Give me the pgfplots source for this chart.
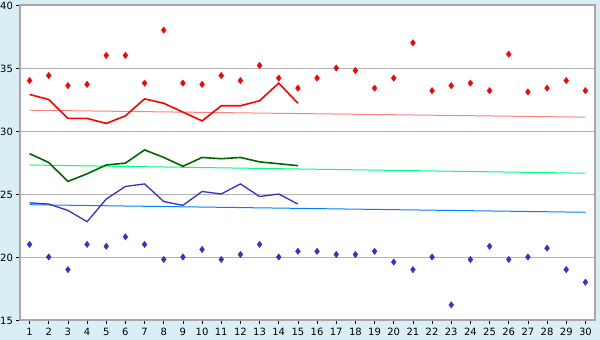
\documentclass[border=0pt]{standalone}
\usepackage{fontspec}
\setmainfont{DejaVu Sans}
\usepackage{pgfplots}
\pgfplotsset{compat=1.18}
\definecolor{bgblue}{HTML}{DAEFF5}
\definecolor{gridgray}{HTML}{B4B4B4}
\definecolor{axgray}{HTML}{A8A8A8}
\definecolor{redtrend}{HTML}{FF8080}
\definecolor{dgreen}{HTML}{006600}
\definecolor{lgreen}{HTML}{00FF80}
\definecolor{dblue}{HTML}{3333CC}
\definecolor{lblue}{HTML}{0080FF}
\begin{document}
\begin{tikzpicture}
\fill[bgblue] (-20pt,-20pt) rectangle (580pt,320pt);
\begin{axis}[
  at={(0pt,0pt)}, anchor=south west,
  scale only axis, width=575pt, height=315pt,
  xmin=0.5, xmax=30.5, ymin=15, ymax=40,
  xtick={1,...,30}, ytick={15,20,...,40},
  tick pos=left, tick align=outside, major tick length=4pt,
  ymajorgrids, grid style={gridgray, line width=0.9pt},
  axis line style={axgray, line width=1.2pt},
  axis background/.style={fill=white},
  tick style={black, line width=0.7pt},
  ticklabel style={font=\fontsize{10}{12}\selectfont},
  xticklabel style={yshift=-1pt},
  yticklabel style={yshift=-0.5pt, xshift=0.5pt},
  /pgf/number format/assume math mode=true,
  every mark/.append style={xscale=1.3},
]
% red points
\addplot[only marks, mark=diamond*, mark size=3.2pt, color=red] coordinates {
(1,34.0)(2,34.4)(3,33.6)(4,33.7)(5,36.0)(6,36.0)(7,33.8)(8,38.0)(9,33.8)(10,33.7)
(11,34.4)(12,34.0)(13,35.2)(14,34.2)(15,33.4)(16,34.2)(17,35.0)(18,34.8)(19,33.4)(20,34.2)
(21,37.0)(22,33.2)(23,33.6)(24,33.8)(25,33.2)(26,36.1)(27,33.1)(28,33.4)(29,34.0)(30,33.2)};
% blue points
\addplot[only marks, mark=diamond*, mark size=3.2pt, color=dblue] coordinates {
(1,21.0)(2,20.0)(3,19.0)(4,21.0)(5,20.85)(6,21.6)(7,21.0)(8,19.8)(9,20.0)(10,20.6)
(11,19.8)(12,20.2)(13,21.0)(14,20.0)(15,20.45)(16,20.45)(17,20.2)(18,20.2)(19,20.45)(20,19.6)
(21,19.0)(22,20.0)(23,16.2)(24,19.8)(25,20.85)(26,19.8)(27,20.0)(28,20.7)(29,19.0)(30,18.0)};
% trend lines
\addplot[redtrend, line width=1pt] coordinates {(1,31.65)(30,31.1)};
\addplot[lgreen, line width=1pt] coordinates {(1,27.3)(30,26.65)};
\addplot[lblue, line width=1pt] coordinates {(1,24.15)(30,23.55)};
% red line
\addplot[red, line width=1.6pt] coordinates {
(1,32.9)(2,32.5)(3,31.0)(4,31.0)(5,30.6)(6,31.2)(7,32.55)(8,32.2)(9,31.5)(10,30.8)
(11,32.0)(12,32.0)(13,32.4)(14,33.8)(15,32.2)};
% green line
\addplot[dgreen, line width=1.6pt] coordinates {
(1,28.2)(2,27.5)(3,26.0)(4,26.6)(5,27.3)(6,27.45)(7,28.5)(8,27.9)(9,27.2)(10,27.9)
(11,27.8)(12,27.9)(13,27.55)(14,27.4)(15,27.25)};
% blue line
\addplot[dblue, line width=1.3pt] coordinates {
(1,24.3)(2,24.2)(3,23.7)(4,22.8)(5,24.6)(6,25.6)(7,25.8)(8,24.4)(9,24.1)(10,25.2)
(11,25.0)(12,25.8)(13,24.8)(14,25.0)(15,24.2)};
\end{axis}
\pgfresetboundingbox
\path[use as bounding box] (-20pt,-20pt) rectangle (580pt,320pt);
\end{tikzpicture}
\end{document}
